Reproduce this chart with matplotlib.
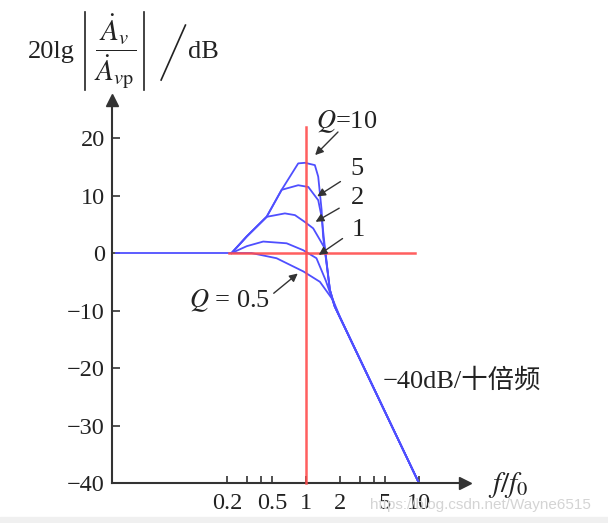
import matplotlib.pyplot as plt
from matplotlib.ticker import NullFormatter
from matplotlib.patches import Rectangle

plt.rcParams['font.family'] = ['Liberation Serif', 'Noto Sans CJK SC']
plt.rcParams['mathtext.fontset'] = 'stix'

# values: f/f0 and gain in dB
flat_f = [0.021, 0.22]
flat_db = [0, 0]

q10_f = [0.22, 0.30, 0.449, 0.61, 0.855, 0.98, 1.20, 1.285, 1.377, 1.42, 1.47, 1.63, 1.80, 10]
q10_db = [0, 2.9, 6.3, 11.0, 15.6, 15.7, 15.3, 13.3, 7.5, 2.8, 0.5, -6.4, -9.3, -40]

q5_f = [0.22, 0.30, 0.449, 0.61, 0.855, 1.05, 1.285, 1.377, 1.47, 1.63, 1.80, 10]
q5_db = [0, 2.9, 6.3, 11.0, 11.8, 11.5, 9.2, 6.3, 1.1, -6.4, -9.3, -40]

q2_f = [0.22, 0.30, 0.449, 0.652, 0.80, 0.98, 1.16, 1.33, 1.47, 1.63, 1.80, 10]
q2_db = [0, 2.9, 6.3, 6.9, 6.6, 5.4, 4.3, 2.3, 0.8, -6.4, -9.3, -40]

q1_f = [0.22, 0.30, 0.419, 0.675, 0.946, 1.24, 1.5, 1.80, 10]
q1_db = [0, 1.2, 2.0, 1.7, 0.5, -0.9, -4.8, -9.3, -40]

q05_f = [0.22, 0.33, 0.55, 0.95, 1.33, 1.74, 2.0, 10]
q05_db = [0, 0, -0.9, -3.2, -5.0, -8.2, -11.1, -40]

x_major = [0.2, 0.5, 1, 2, 5, 10]
x_labels = ['0.2', '0.5', '1', '2', '5', '10']
x_minor = [0.3, 0.4, 3, 4]
y_ticks = [-40, -30, -20, -10, 0, 10, 20]

blue = '#4f4fff'
red = '#ff4d4d'
dark = '#333333'
txt = '#222222'

fig = plt.figure(figsize=(6.08, 5.23), dpi=100)
fig.patches.append(Rectangle((0, 0), 1, 6 / 523, transform=fig.transFigure,
                             color='#f0f0f0', zorder=0))
ax = fig.add_axes([0.184, 0.0765, 0.5806, 0.732])
ax.set_xscale('log')
ax.set_xlim(0.0192, 25.5)
ax.set_ylim(-40, 26.6)

# curves
ax.plot(flat_f, flat_db, color=blue, lw=1.3)
for f, db in [(q10_f, q10_db), (q5_f, q5_db), (q2_f, q2_db),
              (q1_f, q1_db), (q05_f, q05_db)]:
    ax.plot(f, db, color=blue, lw=1.3)

# red cross through f0 and 0 dB
ax.plot([1, 1], [-40, 22.0], color=red, lw=1.8, alpha=0.9, zorder=3, clip_on=False)
ax.plot([0.21, 9.2], [0, 0], color=red, lw=1.8, alpha=0.9, zorder=3)

# axes with arrows
for s in ['top', 'right']:
    ax.spines[s].set_visible(False)
for s in ['left', 'bottom']:
    ax.spines[s].set_color(dark)
    ax.spines[s].set_linewidth(1.5)
ax.plot([1], [0], marker='>', ms=9, color=dark, transform=ax.transAxes, clip_on=False)
ax.plot([0], [1], marker='^', ms=9, color=dark, transform=ax.transAxes, clip_on=False)

ax.set_xticks(x_major)
ax.set_xticklabels(x_labels)
ax.set_xticks(x_minor, minor=True)
ax.xaxis.set_minor_formatter(NullFormatter())
ax.set_yticks(y_ticks)
ax.tick_params(axis='both', which='both', direction='in', color=dark,
               width=1.2, labelsize=17.5, labelcolor=txt)
ax.tick_params(axis='x', which='both', length=5, pad=7)
ax.tick_params(axis='y', length=6, pad=5)

# y label: 20lg |A/Ap| /dB, bars and slash drawn as thin lines
fig.text(0.046, 0.900, '20lg', fontsize=19, va='center', ha='left', color=txt)
fig.text(0.189, 0.900, r'$\dfrac{\dot{A}_{v}}{\dot{A}_{v\mathrm{p}}}$',
         fontsize=21, va='center', ha='center', color=txt)
for x0 in [0.140, 0.237]:
    fig.lines.append(plt.Line2D([x0, x0], [0.828, 0.977], transform=fig.transFigure,
                                color=txt, lw=1.2))
fig.lines.append(plt.Line2D([0.265, 0.305], [0.847, 0.952], transform=fig.transFigure,
                            color=txt, lw=1.2))
fig.text(0.309, 0.900, 'dB', fontsize=19, va='center', ha='left', color=txt)
fig.text(0.803, 0.073, r'$f/f_0$', fontsize=21, va='center', ha='left', color=txt)

# annotations
arrow = dict(arrowstyle='-|>', color=dark, lw=1.0, mutation_scale=12)
ax.text(1.226, 22.8, r'$Q$=10', fontsize=19, va='center', ha='left', color=txt)
ax.annotate('', xy=(1.16, 16.7), xytext=(2.0, 21.4), arrowprops=arrow)
ax.text(2.45, 14.6, '5', fontsize=19, va='center', ha='left', color=txt)
ax.annotate('', xy=(1.20, 9.6), xytext=(2.12, 12.7), arrowprops=arrow)
ax.text(2.5, 9.5, '2', fontsize=19, va='center', ha='left', color=txt)
ax.annotate('', xy=(1.16, 5.2), xytext=(2.07, 8.05), arrowprops=arrow)
ax.text(2.55, 4.0, '1', fontsize=19, va='center', ha='left', color=txt)
ax.annotate('', xy=(1.24, -0.6), xytext=(2.21, 2.8), arrowprops=arrow)
ax.text(0.48, -8.2, r'$Q$ = 0.5', fontsize=19, va='center', ha='right', color=txt)
ax.annotate('', xy=(0.885, -3.25), xytext=(0.497, -7.3), arrowprops=arrow)

ax.text(4.8, -22.1, '−40dB/十倍频', fontsize=19, va='center', ha='left', color=txt)

fig.text(0.608, 0.034, 'https://blog.csdn.net/Wayne6515', fontsize=11,
         family='Liberation Sans', color='#d4d4d4', va='center', ha='left')

fig.savefig('out.png', dpi=100)
